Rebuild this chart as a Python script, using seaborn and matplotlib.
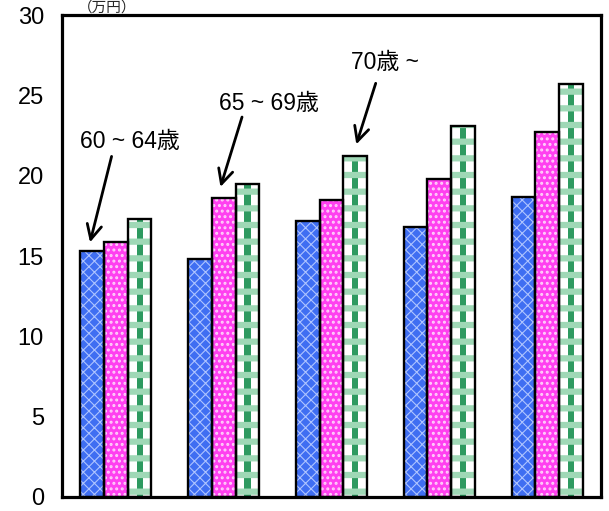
import matplotlib
matplotlib.use("Agg")
import matplotlib.pyplot as plt
import seaborn as sns
import pandas as pd

# ---- data ----
groups = ["1", "2", "3", "4", "5"]
series = ["60 ~ 64歳", "65 ~ 69歳", "70歳 ~"]
age_60_64 = [15.3, 14.8, 17.2, 16.8, 18.7]
age_65_69 = [15.9, 18.6, 18.5, 19.8, 22.7]
age_70_up = [17.3, 19.5, 21.2, 23.1, 25.7]
y_ticks = [0, 5, 10, 15, 20, 25, 30]
unit_label = "（万円）"

df = pd.DataFrame({
    "group": groups * 3,
    "age": [series[0]] * 5 + [series[1]] * 5 + [series[2]] * 5,
    "value": age_60_64 + age_65_69 + age_70_up,
})

sns.set_style("white")
plt.rcParams["font.family"] = ["Liberation Sans", "Noto Sans CJK JP"]
plt.rcParams["hatch.linewidth"] = 1.0

fig = plt.figure(figsize=(6.09, 5.11), dpi=100)
ax = fig.add_axes([0.1018, 0.0274, 0.8851, 0.9432])

base_colors = ["#3f6ef2", "#ff40f0", "#ffffff"]
sns.barplot(data=df, x="group", y="value", hue="age", order=groups,
            hue_order=series, palette=base_colors, saturation=1,
            width=0.66, dodge=True, errorbar=None, legend=False,
            linewidth=0, ax=ax, zorder=3)

hatches = ["xxx", "...", "-"]
hatch_cols = ["#aec4ff", "#ffd0fa", "#9fd8b6"]
hatch_lws = [0.8, 1.4, 4.5]
for i, cont in enumerate(ax.containers):
    for p in cont:
        p.set_hatch(hatches[i])
        p.set_edgecolor(hatch_cols[i])
        p.set_linewidth(0)
        if hasattr(p, "set_hatch_linewidth"):
            p.set_hatch_linewidth(hatch_lws[i])
        if i == 2:
            p.set_facecolor("none")
            p.set_zorder(3)

# dark green central stripe of the third series
for p in list(ax.containers[2]):
    cx = p.get_x() + p.get_width() / 2
    ax.bar(cx, p.get_height(), width=p.get_width() * 0.26,
           color="#2e9a60", linewidth=0, zorder=2)

# black outlines
sns.barplot(data=df, x="group", y="value", hue="age", order=groups,
            hue_order=series, palette=["black"] * 3, saturation=1,
            width=0.66, dodge=True, errorbar=None, legend=False,
            fill=False, linewidth=1.7, ax=ax, zorder=4)

ax.set_xlim(-0.5, 4.5)
ax.set_ylim(0, 30)
ax.set_yticks(y_ticks)
ax.set_xlabel("")
ax.set_ylabel("")
ax.tick_params(axis="y", direction="in", length=7, width=1.0,
               labelsize=17, pad=13, colors="black")
ax.tick_params(axis="x", which="major", length=0, labelbottom=False)
ax.set_xticks([0.5, 1.5, 2.5, 3.5], minor=True)
ax.tick_params(axis="x", which="minor", direction="in", length=5,
               width=1.0, colors="black")
for s in ax.spines.values():
    s.set_visible(True)
    s.set_linewidth(2.3)
    s.set_color("black")
    s.set_zorder(6)

# annotations (text position, arrow tail, arrow tip) in data coords
notes = [
    (series[0], (0.13, 22.1), (-0.04, 21.2), (-0.24, 15.85)),
    (series[1], (1.42, 24.5), (1.17, 23.65), (0.97, 19.3)),
    (series[2], (2.50, 27.05), (2.41, 25.75), (2.23, 21.95)),
]
for txt, tpos, tail, tip in notes:
    ax.text(tpos[0], tpos[1], txt, ha="center", va="center", fontsize=16.5,
            color="black", zorder=7)
    ax.annotate("", xy=tip, xytext=tail,
                arrowprops=dict(arrowstyle="->,head_length=0.7,head_width=0.35",
                                lw=2.0, color="black", mutation_scale=15,
                                shrinkA=0, shrinkB=0), zorder=7)

fig.text(0.176, 0.999, unit_label, ha="center", va="top", fontsize=10.5,
         family=["Noto Sans CJK JP", "Liberation Sans"])

fig.savefig("out.png", dpi=100)
